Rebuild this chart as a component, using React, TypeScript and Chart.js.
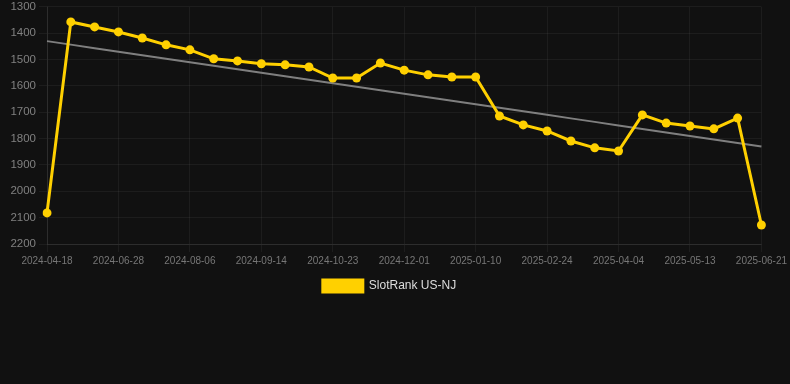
import React, { useEffect, useRef } from "react";
import { Chart, registerables } from "chart.js";

Chart.register(...registerables);

const dates: string[] = [
  "2024-04-18", "2024-06-02", "2024-06-15", "2024-06-28", "2024-07-11", "2024-07-24",
  "2024-08-06", "2024-08-19", "2024-09-01", "2024-09-14", "2024-09-27", "2024-10-10",
  "2024-10-23", "2024-11-05", "2024-11-18", "2024-12-01", "2024-12-14", "2024-12-27",
  "2025-01-10", "2025-01-25", "2025-02-09", "2025-02-24", "2025-03-09", "2025-03-22",
  "2025-04-04", "2025-04-17", "2025-04-30", "2025-05-13", "2025-05-26", "2025-06-08",
  "2025-06-21",
];

const ranks: number[] = [
  2082, 1357, 1376, 1395, 1418, 1444, 1463, 1497, 1505, 1516, 1520, 1528,
  1570, 1570, 1513, 1540, 1558, 1566, 1566, 1714, 1748, 1771, 1809, 1835,
  1847, 1710, 1741, 1752, 1763, 1722, 2128,
];

const seriesLabel = "SlotRank US-NJ";
const yTicks: number[] = [1300, 1400, 1500, 1600, 1700, 1800, 1900, 2000, 2100, 2200];

function trendOf(values: number[]): number[] {
  const n = values.length;
  const mx = (n - 1) / 2;
  const my = values.reduce((a, b) => a + b, 0) / n;
  let num = 0;
  let den = 0;
  values.forEach((v, i) => {
    num += (i - mx) * (v - my);
    den += (i - mx) * (i - mx);
  });
  const slope = num / den;
  return values.map((_, i) => my + slope * (i - mx));
}

export default function App() {
  const ref = useRef<HTMLCanvasElement | null>(null);

  useEffect(() => {
    document.body.style.margin = "0";
    document.body.style.background = "#111111";
    if (!ref.current) return;
    const chart = new Chart(ref.current, {
      type: "line",
      data: {
        labels: dates,
        datasets: [
          {
            label: seriesLabel,
            data: ranks,
            borderColor: "#FFD000",
            backgroundColor: "#FFD000",
            borderWidth: 3,
            pointRadius: 4.5,
            pointBackgroundColor: "#FFD000",
            pointBorderColor: "#FFD000",
            pointBorderWidth: 0,
            tension: 0,
          },
          {
            label: "trend",
            data: trendOf(ranks),
            borderColor: "rgba(140,140,140,0.9)",
            borderWidth: 2,
            pointRadius: 0,
            fill: false,
          },
        ],
      },
      options: {
        animation: false,
        responsive: true,
        maintainAspectRatio: false,
        layout: { padding: { left: 0, right: 11, top: 0, bottom: 0 } },
        plugins: {
          tooltip: { enabled: false },
          legend: {
            position: "bottom",
            labels: {
              color: "#dddddd",
              font: { family: "Arial, 'Liberation Sans', sans-serif", size: 12 },
              boxWidth: 40,
              boxHeight: 12,
              filter: (item) => item.text === seriesLabel,
            },
          },
        },
        scales: {
          x: {
            grid: { color: "rgba(255,255,255,0.05)", drawTicks: true },
            border: { color: "rgba(255,255,255,0.08)" },
            ticks: {
              autoSkip: false,
              maxRotation: 0,
              color: "#777777",
              font: { family: "Arial, 'Liberation Sans', sans-serif", size: 10 },
              callback: function (_v, i) {
                return i % 3 === 0 ? dates[i] : null;
              },
            },
          },
          y: {
            reverse: true,
            min: 1300,
            max: 2200,
            grid: { color: "rgba(255,255,255,0.05)" },
            border: { color: "rgba(255,255,255,0.08)" },
            afterBuildTicks: (axis) => {
              axis.ticks = yTicks.map((v) => ({ value: v }));
            },
            afterFit: (axis) => {
              axis.width = 47;
            },
            ticks: {
              color: "#808080",
              font: { family: "Arial, 'Liberation Sans', sans-serif", size: 11.5 },
              callback: (v) => String(v),
            },
          },
        },
      },
    });
    return () => chart.destroy();
  }, []);

  return (
    <div style={{ width: 790, height: 384, background: "#111111", overflow: "hidden" }}>
      <div style={{ width: 790, height: 305, marginTop: -3, position: "relative" }}>
        <canvas ref={ref} />
      </div>
    </div>
  );
}
